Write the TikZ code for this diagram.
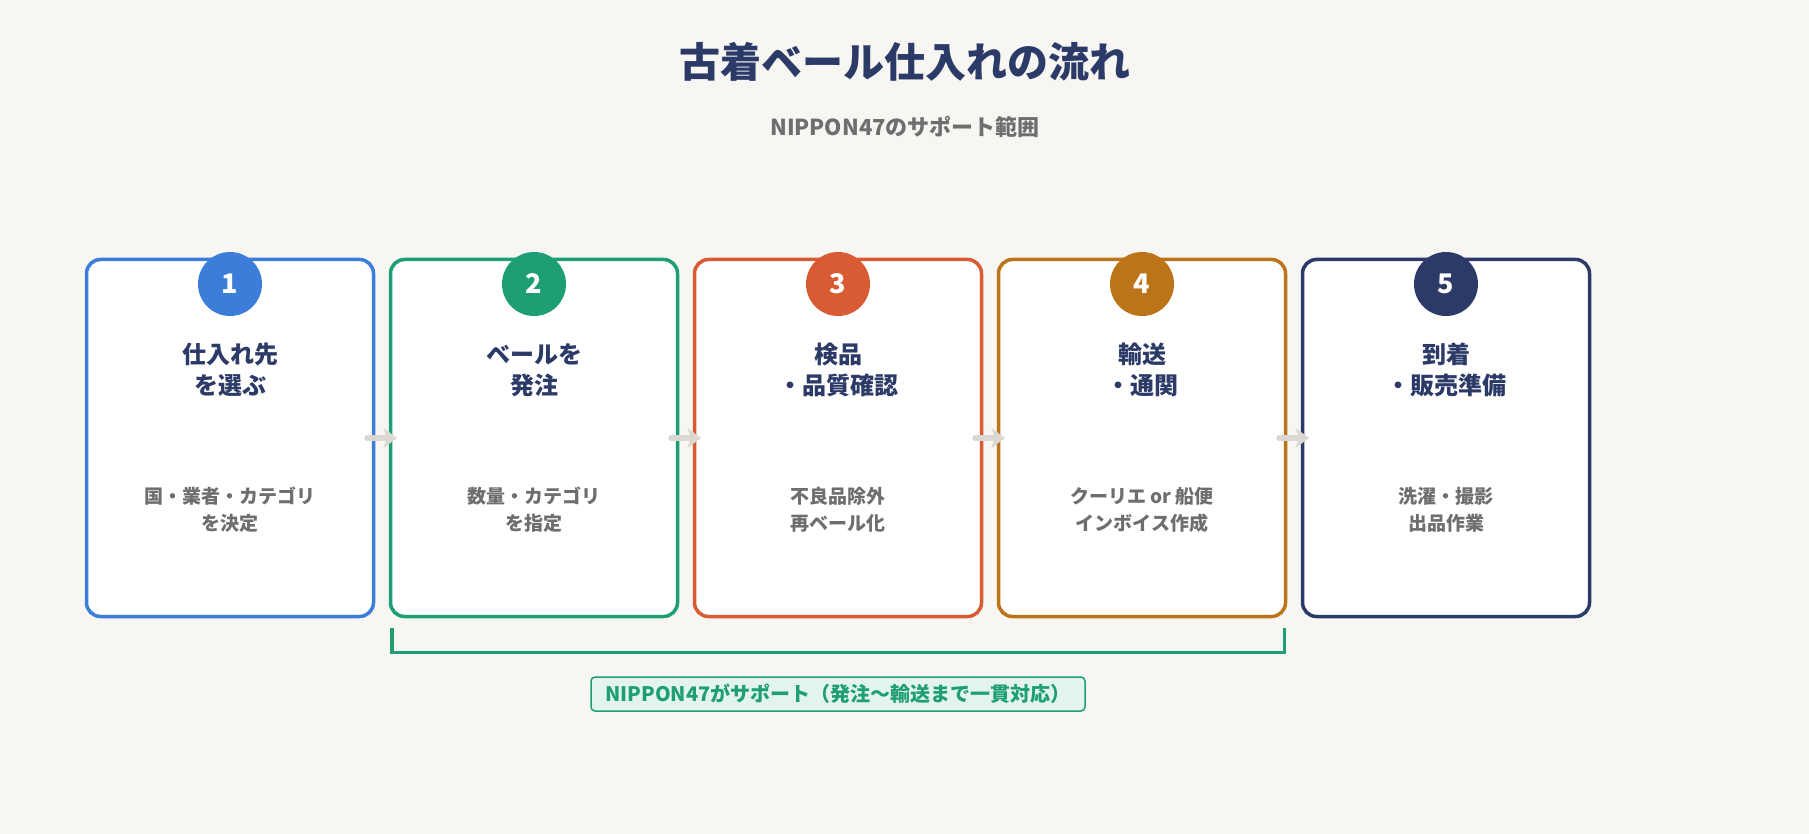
\documentclass[tikz,border=0pt]{standalone}
\usepackage{fontspec}
\setmainfont{Noto Sans CJK JP}
\usetikzlibrary{positioning,arrows.meta}
\definecolor{bg}{HTML}{F7F6F2}
\definecolor{navy}{HTML}{2B3A67}
\definecolor{cblue}{HTML}{3B7DD8}
\definecolor{cgreen}{HTML}{1E9E75}
\definecolor{cred}{HTML}{D95B33}
\definecolor{corange}{HTML}{BC7418}
\definecolor{cgray}{HTML}{6E6E6E}
\definecolor{carrow}{HTML}{DAD8D1}
\definecolor{lgreen}{HTML}{E3F4EE}
\begin{document}
\begin{tikzpicture}[x=1pt,y=-1pt,
step/.style = {draw=#1, line width=3.5pt, fill=white, rounded corners=14pt,
               minimum width=287pt, minimum height=357pt, inner sep=0pt},
num/.style = {circle, fill=#1, minimum size=64pt, inner sep=0pt,
              text=white, font=\fontsize{27}{27}\selectfont\bfseries},
head/.style = {align=center, text=navy, font=\fontsize{24}{31}\selectfont\bfseries},
sub/.style = {align=center, text=cgray, font=\fontsize{19}{27}\selectfont\bfseries},
flow/.style = {carrow, line width=6pt, line cap=round, -{Stealth[length=14pt,width=20pt,inset=4pt]}}
                        ]
\fill[bg] (0,0) rectangle (1809,834);
\useasboundingbox (0,0) rectangle (1809,834);
\node[text=navy, font=\fontsize{41}{41}\selectfont\bfseries] (title) at (905,62) {古着ベール仕入れの流れ};
\node[text=cgray, font=\fontsize{22}{22}\selectfont\bfseries] (subtitle) at (905,127) {NIPPON47のサポート範囲};
%
\foreach \i/\c/\h/\s in {1/cblue/{仕入れ先\\を選ぶ}/{国・業者・カテゴリ\\を決定},
                         2/cgreen/{ベールを\\発注}/{数量・カテゴリ\\を指定},
                         3/cred/{検品\\・品質確認}/{不良品除外\\再ベール化},
                         4/corange/{輸送\\・通関}/{クーリエ or 船便\\インボイス作成},
                         5/navy/{到着\\・販売準備}/{洗濯・撮影\\出品作業}}
{
    \node[step=\c] (box\i) at (230+304*\i-304,438) {};
    \node[num=\c] (num\i) at (230+304*\i-304,284) {\i};
    \node[head] (head\i) at (230+304*\i-304,370) {\h};
    \node[sub] (sub\i) at (230+304*\i-304,510) {\s};
}
\foreach \i in {1,2,3,4}
    \draw[flow] ([xshift=-8pt]box\i.east) -- ([xshift=22pt]box\i.east);
%
\coordinate (bl) at ([yshift=-10pt]box2.south west);
\coordinate (br) at ([yshift=-10pt]box4.south east);
\draw[cgreen, line width=3.5pt] ([xshift=3pt]bl) -- ++(0,24) -| ([xshift=-3pt]br);
\node[draw=cgreen, line width=1.5pt, fill=lgreen, rounded corners=4pt, text=cgreen,
      font=\fontsize{20}{20}\selectfont\bfseries, minimum width=494pt, minimum height=34pt]
      (support) at (838,694) {NIPPON47がサポート（発注〜輸送まで一貫対応）};
\end{tikzpicture}
\end{document}
